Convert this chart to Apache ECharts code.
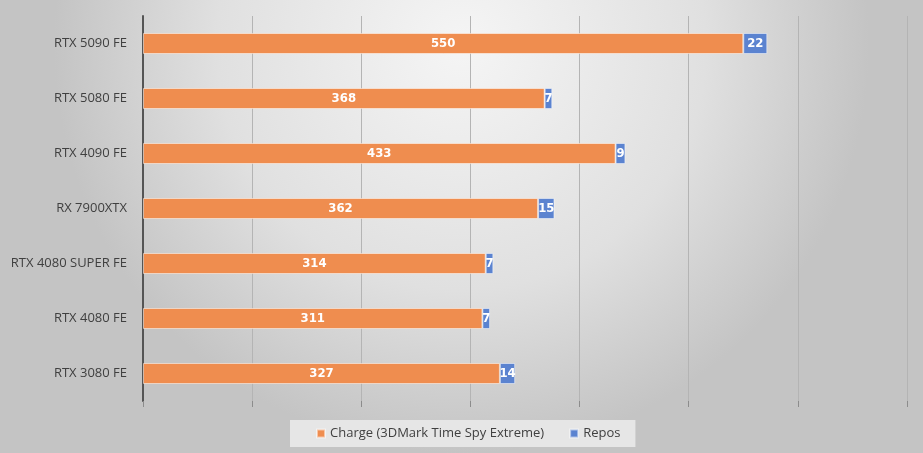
<!DOCTYPE html>
<html><head><meta charset="utf-8">
<script src="https://cdn.jsdelivr.net/npm/echarts@6/dist/echarts.min.js"></script>
<style>html,body{margin:0;padding:0;}#c{width:923px;height:453px;}</style>
</head><body><div id="c"></div>
<script>
var categories = ["RTX 5090 FE","RTX 5080 FE","RTX 4090 FE","RX 7900XTX","RTX 4080 SUPER FE","RTX 4080 FE","RTX 3080 FE"];
var charge = [550,368,433,362,314,311,327];
var repos = [22,7,9,15,7,7,14];
var seriesNames = ["Charge (3DMark Time Spy Extreme)","Repos"];

var chart = echarts.init(document.getElementById('c'));
var labelStyle = {show:true, color:'#ffffff', fontWeight:'bold', fontSize:13, fontFamily:'DejaVu Sans Condensed, Liberation Sans Narrow, sans-serif'};
chart.setOption({
  animation:false,
  backgroundColor:{type:'radial', x:0.5, y:0.1, r:0.9, colorStops:[{offset:0,color:'#f5f5f5'},{offset:0.6,color:'#e0e0e0'},{offset:1,color:'#c4c4c4'}]},
  grid:{left:143, right:16, top:16, height:385, containLabel:false},
  legend:{
    bottom:6, left:290,
    data:seriesNames,
    itemWidth:8, itemHeight:8, itemGap:25, icon:'rect',
    backgroundColor:'#e6e6e6', padding:[7,15,7,26],
    textStyle:{color:'#404040', fontSize:13, fontFamily:'Open Sans, sans-serif'}
  },
  xAxis:{type:'value', min:0, max:700, interval:100,
    axisLabel:{show:false}, axisLine:{show:false},
    axisTick:{show:true, length:6, lineStyle:{color:'#8c8c8c'}},
    splitLine:{show:true, lineStyle:{color:'#b4b4b4', width:1}}},
  yAxis:{type:'category', inverse:true, data:categories,
    axisLine:{show:true, lineStyle:{color:'#555555', width:2}},
    axisTick:{show:false},
    axisLabel:{color:'#404040', fontSize:13, margin:16, fontFamily:'Open Sans, sans-serif'}},
  series:[
    {name:seriesNames[0], type:'bar', stack:'a', data:charge, barWidth:21,
     itemStyle:{color:'#ef8d4f', borderColor:'rgba(255,255,255,0.5)', borderWidth:1},
     label:Object.assign({position:'inside'}, labelStyle)},
    {name:seriesNames[1], type:'bar', stack:'a', data:repos, barWidth:21,
     itemStyle:{color:'#5b83d0', borderColor:'rgba(255,255,255,0.5)', borderWidth:1},
     label:Object.assign({position:'inside'}, labelStyle)}
  ]
});
</script></body></html>
